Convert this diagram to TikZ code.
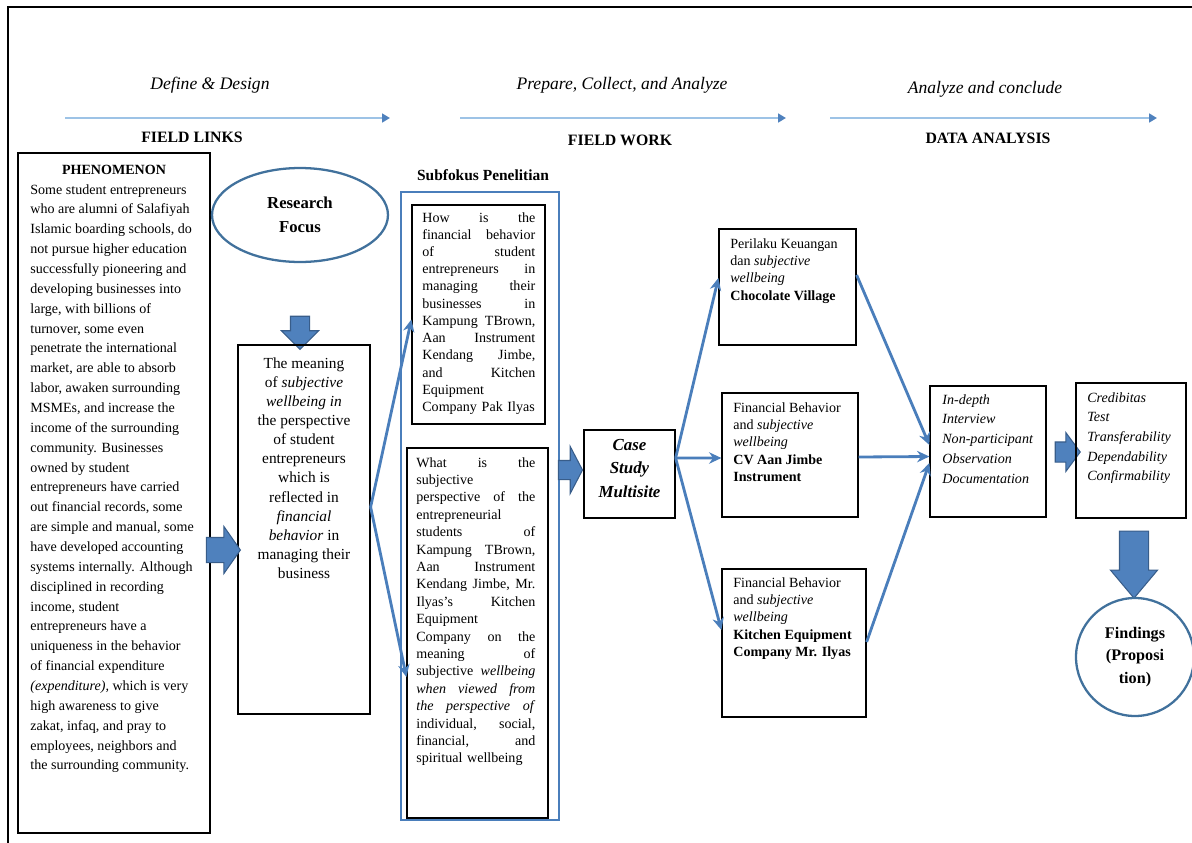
\documentclass[tikz,border=0pt]{standalone}
\usepackage{fontspec}
\setmainfont{Liberation Serif}
\usepackage{tikz}
\usetikzlibrary{shapes.geometric, shapes.arrows, arrows.meta, positioning, fit}
\definecolor{blockfill}{HTML}{4F81BD}
\definecolor{blockline}{HTML}{385D8A}
\definecolor{linkblue}{HTML}{4A7EBB}
\definecolor{paleblue}{HTML}{9DC3E6}
\definecolor{ovalblue}{HTML}{41719C}
\setlength{\parindent}{0pt}
\newcommand{\jw}{2cm}
\newcommand{\jl}[1]{\makebox[\jw][l]{#1}\\}
\tikzset{
  frame/.style={draw=black, line width=0.7pt, inner sep=0pt},
  txt/.style={inner sep=0pt, anchor=north west, align=left,
              font=\fontsize{8}{9.9}\selectfont},
  link/.style={-{Stealth[length=7pt,width=6.5pt]}, draw=linkblue, line width=1.6pt},
  phasearrow/.style={-{Triangle[length=4.5pt,width=5pt,color=blockfill]},
                     draw=paleblue, line width=1.3pt},
  blockarrow/.style={single arrow, draw=blockline, fill=blockfill, line width=0.6pt,
                     inner xsep=0pt, single arrow head indent=0pt, minimum width=0pt},
  oval/.style={draw=ovalblue, line width=1.3pt, inner sep=0pt, align=center},
  phase/.style={font=\itshape\fontsize{10}{12}\selectfont},
  stage/.style={font=\bfseries\fontsize{9}{11}\selectfont},
}
\begin{document}
\begin{tikzpicture}[x=0.02cm, y=-0.02cm]
  \useasboundingbox (0,0) rectangle (1192,842);
  \draw[line width=0.6pt] (8,850) -- (8,7) -- (1200,7);

  % phases on top
  \node[phase] (def) at (210,85) {Define \& Design};
  \node[phase] (prep) at (622,85) {Prepare, Collect, and Analyze};
  \node[phase] (concl) at (985,89) {Analyze and conclude};
  \coordinate (d1) at (65,118);  \coordinate (d2) at (390,118);
  \coordinate (p1) at (460,118); \coordinate (p2) at (786,118);
  \coordinate (c1) at (830,118); \coordinate (c2) at (1157,118);
  \draw[phasearrow] (d1) -- (d2);
  \draw[phasearrow] (p1) -- (p2);
  \draw[phasearrow] (c1) -- (c2);
  \node[stage] (links) at (192,137) {FIELD LINKS};
  \node[stage] (work) at (620,140) {FIELD WORK};
  \node[stage] (analysis) at (988,138) {DATA ANALYSIS};

  % phenomenon
  \node[frame, fit={(18,153) (210,833)}] (phen) {};
  \node[inner sep=0pt, font=\bfseries\fontsize{8}{11.3}\selectfont] (phenhead) at (114,170) {PHENOMENON};
  \node[txt, font=\fontsize{8}{11.3}\selectfont] (phentxt) at (30,184) {Some student entrepreneurs\\
    who are alumni of Salafiyah\\ Islamic boarding schools, do\\ not pursue higher education\\
    successfully pioneering and\\ developing businesses into\\ large, with billions of\\
    turnover, some even\\ penetrate the international\\ market, are able to absorb\\
    labor, awaken surrounding\\ MSMEs, and increase the\\ income of the surrounding\\
    community. Businesses\\ owned by student\\ entrepreneurs have carried\\
    out financial records, some\\ are simple and manual, some\\ have developed accounting\\
    systems internally. Although\\ disciplined in recording\\ income, student\\
    entrepreneurs have a\\ uniqueness in the behavior\\ of financial expenditure\\
    \textit{(expenditure),} which is very\\ high awareness to give\\ zakat, infaq, and pray to\\
    employees, neighbors and\\ the surrounding community.};

  % research focus
  \node[oval, ellipse, minimum width=3.52cm, minimum height=1.88cm,
        font=\bfseries\fontsize{9.5}{13.6}\selectfont] (focus) at (300,215) {Research\\Focus};
  \node[blockarrow, rotate=-90, minimum height=0.66cm, inner ysep=0.18cm,
        single arrow head extend=0.18cm] (down1) at (300,328) {};
  \node[frame, fit={(238,345) (370,714)}] (meaning) {};
  \node[inner sep=0pt, anchor=north, align=center, font=\fontsize{8.75}{10.9}\selectfont]
    (meaningtxt) at (304,357) {The meaning\\ of \textit{subjective}\\ \textit{wellbeing in}\\
    the perspective\\ of student\\ entrepreneurs\\ which is\\ reflected in\\
    \textit{financial}\\ \textit{behavior} in\\ managing their\\ business};
  \node[blockarrow, minimum height=0.68cm, inner ysep=0.24cm, single arrow head extend=0.22cm,
        single arrow tip angle=110] (right1) at (219,550) {};

  % subfokus
  \node[stage, font=\bfseries\fontsize{8.8}{11}\selectfont] (subhead) at (483,175) {Subfokus Penelitian};
  \node[draw=linkblue, line width=0.9pt, inner sep=0pt, fit={(401,192) (559,820)}] (subrect) {};
  \node[frame, fit={(412,205) (545,424)}] (box1) {};
  \node[txt, text width=2.26cm, font=\fontsize{8}{9.8}\selectfont] (box1txt) at (422,212) {%
    \renewcommand{\jw}{2.26cm}%
    \jl{How \hfill is \hfill the}\jl{financial \hfill behavior}\jl{of \hfill student}
    \jl{entrepreneurs \hfill in}\jl{managing \hfill their}\jl{businesses \hfill in}
    \jl{Kampung \hfill TBrown,}\jl{Aan \hfill Instrument}\jl{Kendang \hfill Jimbe,}
    \jl{and \hfill Kitchen}Equipment\\ Company Pak Ilyas};
  \node[frame, fit={(407,448) (548,818)}] (box2) {};
  \node[txt, text width=2.38cm] (box2txt) at (416,457) {%
    \renewcommand{\jw}{2.38cm}%
    \jl{What \hfill is \hfill the}subjective\\ \jl{perspective \hfill of \hfill the}entrepreneurial\\
    \jl{students \hfill of}\jl{Kampung \hfill TBrown,}\jl{Aan \hfill Instrument}
    \jl{Kendang \hfill Jimbe, \hfill Mr.}\jl{Ilyas's \hfill Kitchen}Equipment\\
    \jl{Company \hfill on \hfill the}\jl{meaning \hfill of}
    \jl{subjective \hfill \textit{wellbeing}}\jl{\textit{when \hfill viewed \hfill from}}
    \jl{\textit{the \hfill perspective \hfill of}}\jl{individual, \hfill social,}
    \jl{financial, \hfill and}spiritual wellbeing};
  \draw[link] ([yshift=0.45cm]meaning.east) -- ([yshift=-0.1cm]box1.west);
  \draw[link] ([yshift=0.45cm]meaning.east) -- ([yshift=-0.88cm]box2.west);

  % case study
  \node[blockarrow, minimum height=0.48cm, inner ysep=0.18cm, single arrow head extend=0.28cm,
        single arrow tip angle=125] (right2) at (568,470) {};
  \node[frame, align=center, fit={(584,430) (675,518)},
        font=\bfseries\itshape\fontsize{9.6}{13.6}\selectfont] (case) {Case\\Study\\Multisite};

  \node[frame, fit={(719,229) (856,345)}] (boxA) {};
  \node[txt] (boxAtxt) at (730,238) {Perilaku Keuangan\\ dan \textit{subjective}\\
    \textit{wellbeing}\\ \textbf{Chocolate Village}};
  \node[frame, fit={(722,393) (858,517)}] (boxB) {};
  \node[txt] (boxBtxt) at (733,402) {Financial Behavior\\ and \textit{subjective}\\
    \textit{wellbeing}\\ \textbf{CV Aan Jimbe}\\ \textbf{Instrument}};
  \node[frame, fit={(722,569) (866,717)}] (boxC) {};
  \node[txt] (boxCtxt) at (733,577) {Financial Behavior\\ and \textit{subjective}\\
    \textit{wellbeing}\\ \textbf{Kitchen Equipment}\\ \textbf{Company Mr. Ilyas}};
  \draw[link] ([yshift=0.32cm]case.east) -- ([yshift=0.18cm]boxA.west);
  \draw[link] ([yshift=0.32cm]case.east) -- ([yshift=-0.06cm]boxB.west);
  \draw[link] ([yshift=0.32cm]case.east) -- ([yshift=0.26cm]boxC.west);

  % data analysis
  \node[frame, fit={(930,386) (1046,517)}] (method) {};
  \node[txt, font=\itshape\fontsize{8}{11.3}\selectfont] (methodtxt) at (942,394) {In-depth\\
    Interview\\ Non-participant\\ Observation\\ Documentation};
  \draw[link] ([yshift=0.24cm]boxA.east) -- ([yshift=0.13cm]method.west);
  \draw[link] ([yshift=-0.04cm]boxB.east) -- ([yshift=-0.1cm]method.west);
  \draw[link] ([yshift=0.02cm]boxC.east) -- ([yshift=-0.23cm]method.west);
  \node[blockarrow, minimum height=0.5cm, inner ysep=0.19cm, single arrow head extend=0.19cm,
        single arrow tip angle=107] (right3) at (1064,452) {};
  \node[frame, fit={(1076,383) (1186,518)}] (valid) {};
  \node[txt, font=\itshape\fontsize{8}{11.2}\selectfont] (validtxt) at (1087,392) {Credibitas\\
    Test\\ Transferability\\ Dependability\\ Confirmability};
  \node[blockarrow, rotate=-90, minimum height=1.34cm, inner ysep=0.28cm,
        single arrow head extend=0.18cm, single arrow tip angle=80] (down2) at (1134,556) {};
  \node[oval, circle, minimum size=2.36cm,
        font=\bfseries\fontsize{9.2}{12.8}\selectfont] (findings) at (1135,657) {Findings\\(Proposi\\tion)};
\end{tikzpicture}
\end{document}
